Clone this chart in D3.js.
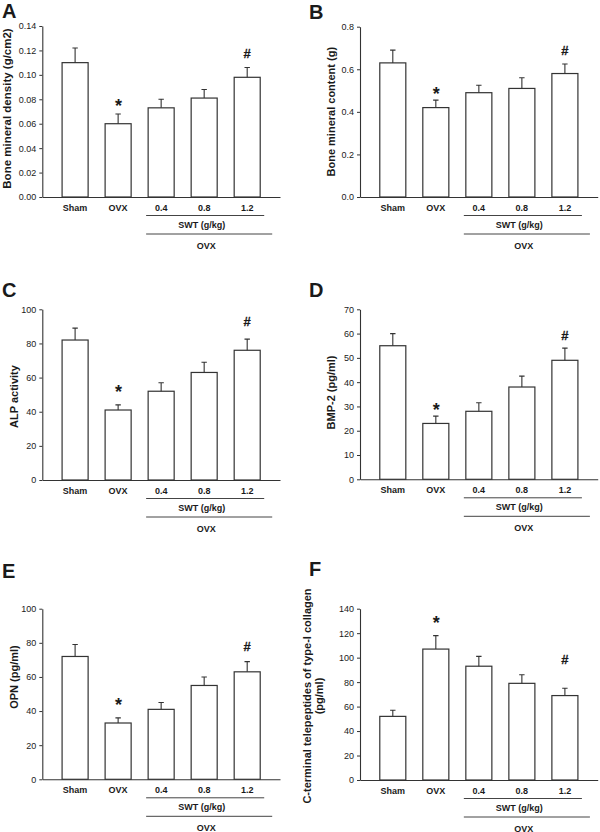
<!DOCTYPE html>
<html><head><meta charset="utf-8">
<script src="https://cdn.jsdelivr.net/npm/d3@7"></script>
<style>
body{margin:0;background:#fff}
svg{display:block}
text{font-family:"Liberation Sans",Arial,Helvetica,sans-serif;fill:#1a1a1a}
</style>
</head><body>
<svg id="chart" width="600" height="832"></svg>
<script>
// ---------- data ----------
const categories = ["Sham", "OVX", "0.4", "0.8", "1.2"];
const sigMarks = ["", "*", "", "", "#"];
const doseLabel = "SWT (g/kg)";
const groupLabel = "OVX";

const bmdMean = [0.110, 0.060, 0.073, 0.081, 0.098];
const bmdErr  = [0.012, 0.008, 0.007, 0.007, 0.008];
const bmdTicks = [0, 0.02, 0.04, 0.06, 0.08, 0.10, 0.12, 0.14];

const bmcMean = [0.63, 0.42, 0.49, 0.51, 0.58];
const bmcErr  = [0.06, 0.035, 0.035, 0.05, 0.045];
const bmcTicks = [0, 0.2, 0.4, 0.6, 0.8];

const alpMean = [82, 41, 52, 63, 76];
const alpErr  = [7, 3, 5, 6, 6.5];
const alpTicks = [0, 20, 40, 60, 80, 100];

const bmp2Mean = [55, 23, 28, 38, 49];
const bmp2Err  = [5, 3, 3.5, 4.5, 5];
const bmp2Ticks = [0, 10, 20, 30, 40, 50, 60, 70];

const opnMean = [72, 33, 41, 55, 63];
const opnErr  = [7, 3, 4, 5, 6];
const opnTicks = [0, 20, 40, 60, 80, 100];

const ctxMean = [52, 107, 93, 79, 69];
const ctxErr  = [5, 11, 8, 7, 6];
const ctxTicks = [0, 20, 40, 60, 80, 100, 120, 140];

// ---------- layout ----------
const panels = [
  {letter:"A", mean:bmdMean, err:bmdErr, ticks:bmdTicks, fmt:".2f",
   ylabel:["Bone mineral density (g/cm2)"], labFont:11.5,
   x0:42.3, x1:280, y0:197, y1:26, lx:2, ly:18.3, labX:[10.5], labCy:108.5, gapStar:12, gapHash:14},
  {letter:"B", mean:bmcMean, err:bmcErr, ticks:bmcTicks, fmt:".1f",
   ylabel:["Bone mineral content (g)"], labFont:11,
   x0:360, x1:597.7, y0:197, y1:26.7, lx:309, ly:19, labX:[335], labCy:111.7, gapStar:11, gapHash:14},
  {letter:"C", mean:alpMean, err:alpErr, ticks:alpTicks, fmt:"d",
   ylabel:["ALP activity"], labFont:11,
   x0:42.3, x1:280, y0:480, y1:309.3, lx:2, ly:297, labX:[18.2], labCy:396.5, gapStar:17, gapHash:17.6},
  {letter:"D", mean:bmp2Mean, err:bmp2Err, ticks:bmp2Ticks, fmt:"d",
   ylabel:["BMP-2 (pg/ml)"], labFont:11,
   x0:360, x1:597.7, y0:479.3, y1:309.3, lx:309, ly:297, labX:[335], labCy:392.5, gapStar:11, gapHash:12.7},
  {letter:"E", mean:opnMean, err:opnErr, ticks:opnTicks, fmt:"d",
   ylabel:["OPN (pg/ml)"], labFont:11,
   x0:42.3, x1:280, y0:779.3, y1:608.7, lx:2, ly:577.7, labX:[18.2], labCy:677, gapStar:17.7, gapHash:15.7},
  {letter:"F", mean:ctxMean, err:ctxErr, ticks:ctxTicks, fmt:"d",
   ylabel:["C-terminal telepeptides of type-I collagen", "(pg/ml)"], labFont:11,
   x0:360, x1:597.7, y0:780, y1:608.7, lx:309, ly:576, labX:[311, 322.7], labCy:696, gapStar:17.3, gapHash:29}
];

const svg = d3.select("#chart");
const ink = "#333";

panels.forEach(p => {
  const g = svg.append("g");
  const x = d3.scaleBand().domain(categories).range([p.x0, p.x1])
    .paddingInner(0.395).paddingOuter(0.46);
  const y = d3.scaleLinear().domain([0, d3.max(p.ticks)]).range([p.y0, p.y1]);
  const bw = x.bandwidth();
  const rows = categories.map((c, i) => ({c, m:p.mean[i], e:p.err[i], s:sigMarks[i]}));

  // panel letter
  g.append("text").attr("x", p.lx).attr("y", p.ly)
    .attr("font-size", 20).attr("font-weight", "bold").attr("fill", "#000").text(p.letter);

  // y axis
  const yAxis = d3.axisLeft(y).tickValues(p.ticks).tickFormat(d3.format(p.fmt))
    .tickSize(3).tickPadding(3).tickSizeOuter(0);
  const ya = g.append("g").attr("transform", `translate(${p.x0},0)`).call(yAxis);
  ya.select(".domain").attr("stroke", ink).attr("stroke-width", 1.1);
  ya.selectAll(".tick line").attr("stroke", ink).attr("stroke-width", 1);
  ya.selectAll(".tick text").attr("font-size", 9).attr("fill", "#222")
    .style("font-family", '"Liberation Sans",Arial,sans-serif');

  // x axis (no ticks; labels drawn below)
  const xAxis = d3.axisBottom(x).tickSize(0).tickSizeOuter(0).tickPadding(0).tickFormat("");
  const xa = g.append("g").attr("transform", `translate(0,${p.y0})`).call(xAxis);
  xa.select(".domain").attr("stroke", ink).attr("stroke-width", 1.1);

  // category labels
  g.selectAll(".cat").data(rows).enter().append("text")
    .attr("x", d => x(d.c) + bw / 2).attr("y", p.y0 + 13.5)
    .attr("text-anchor", "middle").attr("font-size", 9).attr("font-weight", "bold")
    .text(d => d.c);

  // bars
  g.selectAll(".bar").data(rows).enter().append("rect")
    .attr("x", d => x(d.c)).attr("y", d => y(d.m))
    .attr("width", bw).attr("height", d => y(0) - y(d.m))
    .attr("fill", "#fff").attr("stroke", ink).attr("stroke-width", 1.2);

  // error whiskers (upper)
  g.selectAll(".eb").data(rows).enter().append("path")
    .attr("d", d => {
      const cx = x(d.c) + bw / 2, yt = y(d.m + d.e);
      return `M${cx},${y(d.m)}V${yt}M${cx - 2.7},${yt}H${cx + 2.7}`;
    })
    .attr("fill", "none").attr("stroke", ink).attr("stroke-width", 1.1);

  // significance marks
  g.selectAll(".sig").data(rows.filter(d => d.s)).enter().append("text")
    .attr("x", d => x(d.c) + bw / 2 + (d.s === "*" ? 0.5 : 0))
    .attr("y", d => {
      const yt = y(d.m + d.e);
      return d.s === "*" ? yt - p.gapStar + 10.4 : yt - p.gapHash + 4.7;
    })
    .attr("text-anchor", "middle").attr("font-weight", "bold")
    .attr("font-size", d => d.s === "*" ? 18 : 13)
    .attr("stroke", d => d.s === "#" ? "#1a1a1a" : "none").attr("stroke-width", 0.3)
    .text(d => d.s);

  // group bracket lines
  const xs = x("0.4") - 2;
  const xe1 = x("1.2") + bw + 4;
  const xe2 = x("1.2") + bw + 12;
  g.append("line").attr("x1", xs).attr("x2", xe1).attr("y1", p.y0 + 18.5).attr("y2", p.y0 + 18.5)
    .attr("stroke", "#444").attr("stroke-width", 1);
  g.append("line").attr("x1", xs).attr("x2", xe2).attr("y1", p.y0 + 37).attr("y2", p.y0 + 37)
    .attr("stroke", "#444").attr("stroke-width", 1);
  g.append("text").attr("x", (xs + xe1) / 2 - 3.5).attr("y", p.y0 + 31)
    .attr("text-anchor", "middle").attr("font-size", 9).attr("font-weight", "bold").text(doseLabel);
  g.append("text").attr("x", (xs + xe2) / 2 - 3).attr("y", p.y0 + 51.5)
    .attr("text-anchor", "middle").attr("font-size", 9).attr("font-weight", "bold").text(groupLabel);

  // y label(s)
  p.ylabel.forEach((t, i) => {
    g.append("text")
      .attr("transform", `translate(${p.labX[i]},${p.labCy}) rotate(-90)`)
      .attr("text-anchor", "middle").attr("font-size", p.labFont).attr("font-weight", "bold")
      .text(t);
  });
});
</script>
</body></html>
